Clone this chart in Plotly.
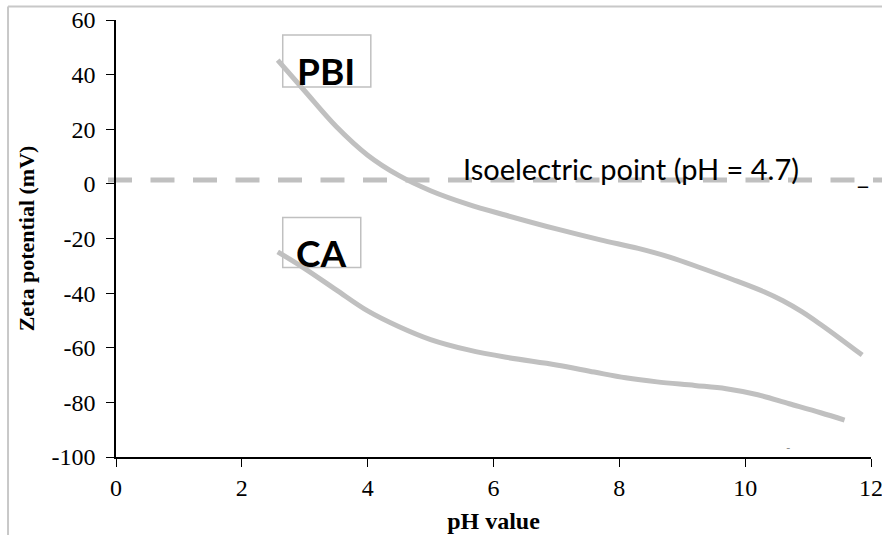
import plotly.graph_objects as go

# pH values and zeta potentials (mV) of the two membranes
pbi_ph = [2.57, 3.0, 3.5, 4.0, 4.5, 5.0, 5.6, 6.2, 7.0, 7.7, 8.3, 8.8,
          9.3, 9.8, 10.3, 10.6, 10.9, 11.2, 11.5, 11.86]
pbi_zeta = [45.3, 34.0, 21.0, 10.5, 3.0, -2.5, -7.5, -11.5, -16.5, -20.5, -23.6, -26.8,
            -30.8, -35.0, -39.5, -42.8, -46.8, -51.5, -56.5, -62.7]

ca_ph = [2.57, 3.0, 3.5, 4.0, 4.5, 5.0, 5.6, 6.2, 7.0, 7.6, 8.1, 8.6,
         9.2, 9.7, 10.2, 10.7, 11.2, 11.58]
ca_zeta = [-24.9, -31.0, -38.8, -46.5, -52.3, -57.0, -60.8, -63.5, -66.3, -68.9, -71.0, -72.5,
           -73.8, -75.0, -77.2, -80.5, -83.8, -86.5]

iso_level = 1.4
iso_label = "Isoelectric point (pH = 4.7)"
x_ticks = [0, 2, 4, 6, 8, 10, 12]
y_ticks = [60, 40, 20, 0, -20, -40, -60, -80, -100]

GRAY = "#c0c0c0"
SERIF = "Liberation Serif, Times New Roman, serif"
SANS = "Lato, Open Sans, sans-serif"

fig = go.Figure()
for xs, ys in [(pbi_ph, pbi_zeta), (ca_ph, ca_zeta)]:
    fig.add_trace(go.Scatter(
        x=xs, y=ys, mode="lines",
        line=dict(color=GRAY, width=5, shape="spline", smoothing=1.0),
        showlegend=False, hoverinfo="skip",
    ))

# isoelectric reference line
fig.add_shape(type="line", xref="paper", yref="y",
              x0=-0.0106, x1=1.02, y0=iso_level, y1=iso_level,
              line=dict(color=GRAY, width=5, dash="24px,18.5px"), layer="below")

# outer frame (top and left edges)
fig.add_shape(type="line", xref="paper", yref="paper", x0=-0.143, x1=1.02, y0=1.031, y1=1.031,
              line=dict(color="#c8c8c8", width=2))
fig.add_shape(type="line", xref="paper", yref="paper", x0=-0.143, x1=-0.143, y0=-0.2, y1=1.031,
              line=dict(color="#c8c8c8", width=2))

# curve label boxes
fig.add_shape(type="rect", xref="x", yref="y", x0=2.65, x1=4.05, y0=35.5, y1=54.5,
              line=dict(color=GRAY, width=1.5), fillcolor="rgba(0,0,0,0)", layer="below")
fig.add_shape(type="rect", xref="x", yref="y", x0=2.65, x1=3.89, y0=-30.6, y1=-12.3,
              line=dict(color=GRAY, width=1.5), fillcolor="rgba(0,0,0,0)", layer="below")

fig.add_annotation(x=3.34, y=41.5, xref="x", yref="y", text="<b>PBI</b>", showarrow=False,
                   font=dict(family=SANS, size=37, color="black"))
fig.add_annotation(x=3.26, y=-25.0, xref="x", yref="y", text="<b>CA</b>", showarrow=False,
                   font=dict(family=SANS, size=37, color="black"))
fig.add_annotation(x=8.18, y=5.6, xref="x", yref="y", text=iso_label, showarrow=False,
                   font=dict(family=SANS, size=29, color="black"))
fig.add_annotation(x=11.87, y=3.5, xref="x", yref="y", text="_", showarrow=False,
                   font=dict(family=SANS, size=26, color="black"))
fig.add_annotation(x=10.68, y=-96.5, xref="x", yref="y", text="-", showarrow=False,
                   font=dict(family=SANS, size=12, color="#888888"))

fig.update_layout(
    width=882, height=535,
    margin=dict(l=116, r=11, t=20, b=78),
    paper_bgcolor="white", plot_bgcolor="white",
    xaxis=dict(
        range=[0, 12], tickvals=x_ticks, ticktext=[str(v) for v in x_ticks],
        showgrid=False, zeroline=False, showline=True, linecolor="black", linewidth=1.5,
        ticks="outside", ticklen=8, tickwidth=1.2, tickcolor="black",
        ticklabeloverflow="allow", automargin=False,
        tickfont=dict(family=SERIF, size=24, color="black"),
        title=dict(text="<b>pH value</b>", font=dict(family=SERIF, size=24, color="black"),
                   standoff=13),
    ),
    yaxis=dict(
        range=[-100, 60], tickvals=y_ticks, ticktext=[str(v) for v in y_ticks],
        showgrid=False, zeroline=False, showline=True, linecolor="black", linewidth=1.5,
        ticks="outside", ticklen=8, tickwidth=1.2, tickcolor="black",
        ticklabeloverflow="allow", automargin=False, ticklabelstandoff=6,
        tickfont=dict(family=SERIF, size=24, color="black"),
        title=dict(text="<b>Zeta potential (mV)</b>", font=dict(family=SERIF, size=22, color="black"),
                   standoff=11),
    ),
)

fig.write_html("out.html")
